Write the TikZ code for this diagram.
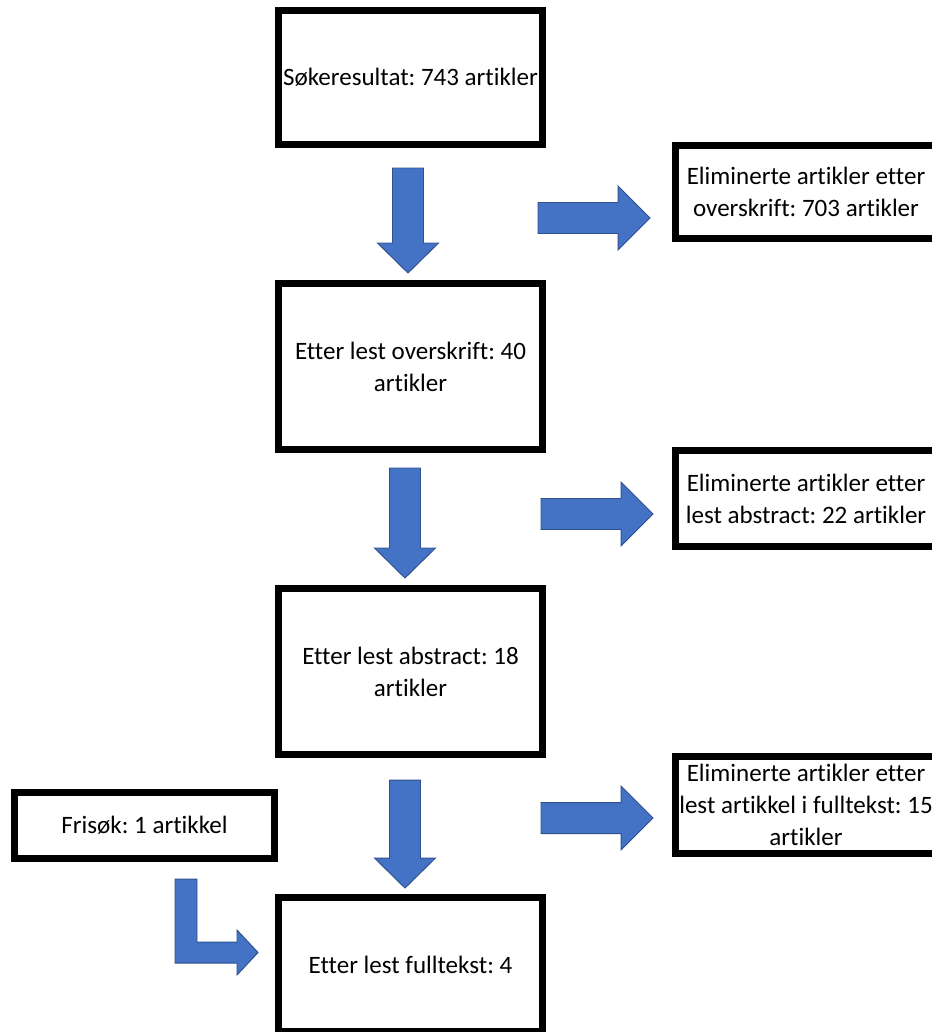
\documentclass[tikz,border=0pt]{standalone}
\usepackage{fontspec}
\setmainfont{Carlito}[Ligatures={NoCommon}]
\frenchspacing
\definecolor{arrowblue}{HTML}{4472C4}
\definecolor{arrowedge}{HTML}{2F528F}
\tikzset{
  box/.style = {draw, line width=5pt, rectangle, align=center, inner sep=0pt},
  blockarrow/.style = {fill=arrowblue, draw=arrowedge, line width=0.7pt, line join=miter}
}
\begin{document}
\begin{tikzpicture}[x=0.025cm, y=-0.025cm]
    \fontsize{17.8}{22.8}\selectfont
    \clip (0,0) rectangle (932,1032);
    \useasboundingbox (0,0) rectangle (932,1032);
    % main column
    \node[box, minimum width=6.6cm, minimum height=3.35cm] (sok) at (410.5,77.5) {Søkeresultat: 743 artikler};
    \node[box, minimum width=6.6cm, minimum height=4.15cm] (overskrift) at (410.5,366.5) {Etter lest overskrift: 40\\artikler};
    \node[box, minimum width=6.6cm, minimum height=4.15cm] (abstract) at (410.5,671.5) {Etter lest abstract: 18\\artikler};
    \node[box, minimum width=6.6cm, minimum height=3.35cm] (fulltekst) at (410.5,964.5) {Etter lest fulltekst: 4};
    % eliminated
    \node[box, minimum width=6.525cm, minimum height=2.325cm] (elimA) at (806,192) {Eliminerte artikler etter\\overskrift: 703 artikler};
    \node[box, minimum width=6.525cm, minimum height=2.4cm] (elimB) at (806,498.5) {Eliminerte artikler etter\\lest abstract: 22 artikler};
    \node[box, minimum width=6.525cm, minimum height=2.425cm] (elimC) at (806,805) {Eliminerte artikler etter\\lest artikkel i fulltekst: 15\\artikler};
    \node[box, minimum width=6.5cm, minimum height=1.65cm] (frisok) at (144.5,825.5) {Frisøk: 1 artikkel};
    % block arrows
    \foreach \cx/\yt/\yb in {408/168/273, 405/468/578, 405/780/888}
      \draw[blockarrow] (\cx-15.5,\yt) -- (\cx+15.5,\yt) -- (\cx+15.5,\yb-30) -- (\cx+30.5,\yb-30)
        -- (\cx,\yb) -- (\cx-30.5,\yb-30) -- (\cx-15.5,\yb-30) -- cycle;
    \foreach \xl/\cy in {538/218, 541/514, 541/818}
      \draw[blockarrow] (\xl,\cy-15.5) -- (\xl+80,\cy-15.5) -- (\xl+80,\cy-32) -- (\xl+112,\cy)
        -- (\xl+80,\cy+32) -- (\xl+80,\cy+15.5) -- (\xl,\cy+15.5) -- cycle;
    \draw[blockarrow] (175,879) -- (197,879) -- (197,942) -- (237,942) -- (237,930) -- (258,952.5)
      -- (237,975) -- (237,963) -- (175,963) -- cycle;
  \end{tikzpicture}
\end{document}
